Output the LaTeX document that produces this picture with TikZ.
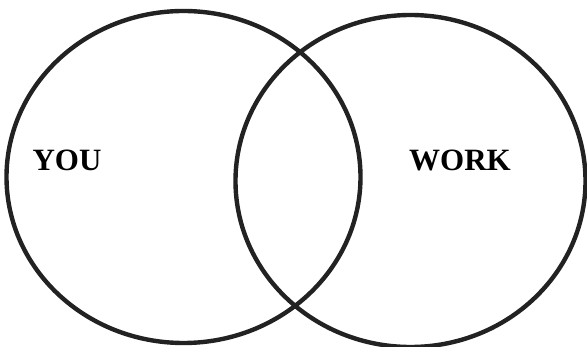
\documentclass[tikz,border=0pt]{standalone}
\usepackage{fontspec}
\setmainfont{Liberation Serif}
\usetikzlibrary{shapes.geometric}
\definecolor{ringgray}{HTML}{222222}
\tikzset{
  ring/.style={draw=ringgray, ellipse, line width=4.4pt, inner sep=0pt},
  setlabel/.style={font=\fontsize{31}{34}\selectfont\bfseries, inner sep=0pt}
}
\begin{document}
\begin{tikzpicture}[x=1pt, y=-1pt, line join=round, line cap=round]
				\useasboundingbox (0,0) rectangle (587,347);
				% Hai tập hợp
				\node[ring, minimum width=354pt, minimum height=332pt] (you) at (183.5,177) {};
				\node[ring, minimum width=350pt, minimum height=332pt] (work) at (410.5,181) {};
				
				% Tên các tập hợp
				\node[setlabel] (youlbl) at (67,160) {YOU};
				\node[setlabel] (worklbl) at (460,160) {WORK};
\end{tikzpicture}
\end{document}
